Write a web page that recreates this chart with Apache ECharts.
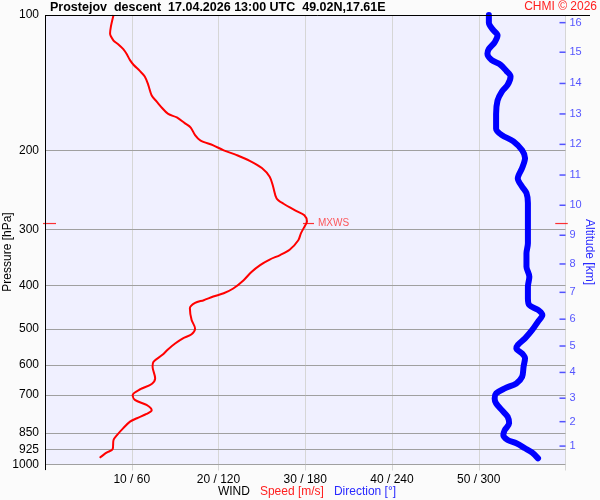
<!DOCTYPE html>
<html>
<head>
<meta charset="utf-8">
<title>Prostejov descent</title>
<script src="https://cdn.jsdelivr.net/npm/echarts@6/dist/echarts.min.js"></script>
<style>
  html, body { margin: 0; padding: 0; background: #fbfbfb; }
  #chart { width: 600px; height: 500px; }
</style>
</head>
<body>
<div id="chart"></div>
<script>
// wind speed [m/s] and the pressure [hPa] it belongs to
const speedPressure = [100, 106, 110, 114, 116, 119, 122, 126, 129, 133, 137, 143, 151, 156, 161, 166, 169, 174, 178, 185, 190, 195, 200, 205, 211, 219, 229, 241, 256, 263, 273, 279, 288, 296, 306, 317, 333, 342, 350, 360, 373, 389, 406, 416, 423, 431, 437, 449, 477, 498, 513, 524, 538, 554, 571, 591, 606, 643, 662, 680, 701, 719, 737, 757, 772, 789, 803, 831, 860, 882, 924, 941, 966];
const speedValues   = [7.9, 7.6, 7.5, 7.9, 8.4, 9.0, 9.4, 9.8, 10.2, 10.9, 11.5, 11.9, 12.3, 12.9, 13.5, 14.2, 15.2, 16.1, 16.8, 17.3, 17.9, 19.4, 20.6, 22.1, 23.6, 25.0, 25.9, 26.3, 26.7, 27.5, 29.0, 29.9, 30.2, 29.9, 29.5, 29.2, 28.2, 27.1, 25.9, 24.8, 23.8, 22.9, 21.7, 20.6, 19.4, 18.3, 17.3, 16.7, 16.9, 17.3, 16.9, 15.9, 15.0, 14.2, 13.5, 12.5, 12.4, 12.7, 12.3, 11.0, 10.1, 10.4, 11.7, 12.3, 11.7, 10.6, 9.8, 9.0, 8.3, 7.9, 7.8, 7.1, 6.3];

// wind direction [deg] and its pressure [hPa]
const dirPressure = [100, 104, 108, 111, 115, 119, 122, 126, 129, 133, 137, 143, 148, 155, 166, 179, 185, 191, 200, 208, 219, 231, 241, 249, 262, 281, 301, 322, 339, 363, 382, 402, 427, 442, 453, 465, 481, 502, 524, 542, 552, 566, 580, 606, 638, 660, 677, 695, 713, 731, 757, 783, 810, 838, 860, 882, 897, 920, 941, 969];
const dirValues   = [307, 307, 310, 313, 311, 307, 306, 309, 315, 319, 322, 320, 316, 313, 312, 312, 316, 324, 330, 332, 330, 327, 330, 333, 334, 334, 334, 334, 333, 333, 335, 334, 334, 335, 341, 344, 341, 337, 332, 327, 326, 330, 332, 331, 330, 326, 318, 312, 311, 312, 316, 320, 321, 318, 317, 320, 326, 332, 337, 341];

const pressureLevels = [100, 200, 300, 400, 500, 600, 700, 850, 925, 1000];
const altitudeKm = [1, 2, 3, 4, 5, 6, 7, 8, 9, 10, 11, 12, 13, 14, 15, 16];
const altitudePressure = [910, 803, 712, 624, 545, 475, 414, 358, 309, 265, 227, 194, 166, 142, 121, 104];

const maxWindSpeed = 30.2;
const maxWindPressure = 291;

const font = 'Liberation Sans, Arial, sans-serif';
const red = '#ff0000';
const blue = '#0000ff';

let chart = echarts.init(document.getElementById('chart'));

let option = {
  backgroundColor: '#fbfbfb',
  animation: false,
  textStyle: { fontFamily: font },
  grid: {
    left: 45, top: 15, right: 34.5, bottom: 35.5,
    show: true, backgroundColor: '#f0f0ff', borderWidth: 0
  },
  xAxis: [
    {
      type: 'value', min: 0, max: 60, interval: 10,
      axisLine: { show: false },
      axisTick: { show: true, length: 6, lineStyle: { color: '#d6d6d6' } },
      splitLine: { show: true, lineStyle: { color: '#d6d6d6', width: 1 } },
      axisLabel: {
        margin: 9, color: '#000', fontSize: 12, fontFamily: font,
        formatter: v => (v === 0 || v === 60) ? '' : v + ' / ' + v * 6
      }
    },
    {
      // direction shares the grid: 0..360 deg over the same width
      type: 'value', min: 0, max: 360, show: false
    }
  ],
  yAxis: [
    {
      type: 'log', logBase: 10, min: 100, max: 1000, inverse: true,
      axisLine: { show: false },
      axisTick: { show: false },
      axisLabel: { show: false },
      splitLine: { show: false }
    }
  ],
  series: [
    {
      name: 'levels',
      type: 'line',
      data: [],
      z: 1,
      markLine: {
        z: 1,
        silent: true,
        symbol: ['none', 'none'],
        lineStyle: { color: '#a0a0a0', width: 1, type: 'solid' },
        label: {
          position: 'start', distance: 6, color: '#000', fontSize: 12, fontFamily: font,
          formatter: p => p.value
        },
        data: pressureLevels.map(p => ({ yAxis: p }))
      }
    },
    {
      name: 'Speed',
      type: 'line',
      xAxisIndex: 0,
      z: 3,
      showSymbol: false,
      smooth: 0.3,
      data: speedValues.map((v, i) => [v, speedPressure[i]]),
      lineStyle: { color: red, width: 2 }
    },
    {
      name: 'Direction',
      type: 'line',
      xAxisIndex: 1,
      z: 3,
      showSymbol: false,
      smooth: 0.3,
      data: dirValues.map((v, i) => [v, dirPressure[i]]),
      lineStyle: { color: blue, width: 6, cap: 'round', join: 'round' }
    },
    {
      name: 'altitude',
      type: 'scatter',
      xAxisIndex: 1,
      z: 4,
      silent: true,
      symbol: 'rect',
      symbolSize: [6, 1.5],
      symbolOffset: [-3, 0],
      itemStyle: { color: '#2a2aff' },
      label: {
        show: true, position: 'right', distance: 4, color: '#2a2aff', fontSize: 11, fontFamily: font,
        formatter: p => altitudeKm[p.dataIndex]
      },
      data: altitudePressure.map(p => [360, p])
    },
    {
      name: 'MXWS',
      type: 'scatter',
      xAxisIndex: 0,
      z: 5,
      silent: true,
      symbol: 'rect',
      itemStyle: { color: red },
      data: [
        { value: [0, maxWindPressure], symbolSize: [13, 1.2], symbolOffset: [4.5, 0] },
        { value: [60, maxWindPressure], symbolSize: [12.5, 1.2], symbolOffset: [-4, 0] },
        {
          value: [maxWindSpeed, maxWindPressure], symbolSize: [11, 1.2], symbolOffset: [1.5, 0],
          label: { show: true, position: 'right', distance: 4, color: '#ff3030', fontSize: 10, fontFamily: font, formatter: 'MXWS' }
        }
      ]
    }
  ],
  graphic: [
    {
      type: 'line', silent: true, z: 10,
      shape: { x1: 45, y1: 15.5, x2: 590, y2: 15.5 },
      style: { stroke: '#000', lineWidth: 1 }
    },
    {
      type: 'line', silent: true, z: 10,
      shape: { x1: 45.5, y1: 15, x2: 45.5, y2: 470 },
      style: { stroke: '#000', lineWidth: 1 }
    },
    {
      type: 'text', left: 50, top: 1, silent: true,
      style: { text: 'Prostejov  descent  17.04.2026 13:00 UTC  49.02N,17.61E', fill: '#000', font: 'bold 12.5px ' + font }
    },
    {
      type: 'text', right: 3, top: 1, silent: true,
      style: { text: 'CHMI \u00a9 2026', fill: '#ff2020', font: '12px ' + font }
    },
    {
      type: 'text', x: 2, y: 252, rotation: Math.PI / 2, silent: true,
      style: { text: 'Pressure [hPa]', fill: '#000', font: '12px ' + font, align: 'center', verticalAlign: 'top' }
    },
    {
      type: 'text', x: 595, y: 252, rotation: -Math.PI / 2, silent: true,
      style: { text: 'Altitude [km]', fill: '#2a2aff', font: '12px ' + font, align: 'center', verticalAlign: 'top' }
    },
    {
      type: 'text', x: 307, y: 486, silent: true,
      style: {
        text: '{a|WIND}   {b|Speed [m/s]}   {c|Direction [\u00b0]}',
        align: 'center', verticalAlign: 'top', font: '12px ' + font,
        rich: {
          a: { fill: '#000', font: '12px ' + font },
          b: { fill: '#ff2020', font: '12px ' + font },
          c: { fill: '#2a2aff', font: '12px ' + font }
        }
      }
    }
  ]
};

chart.setOption(option);
</script>
</body>
</html>
